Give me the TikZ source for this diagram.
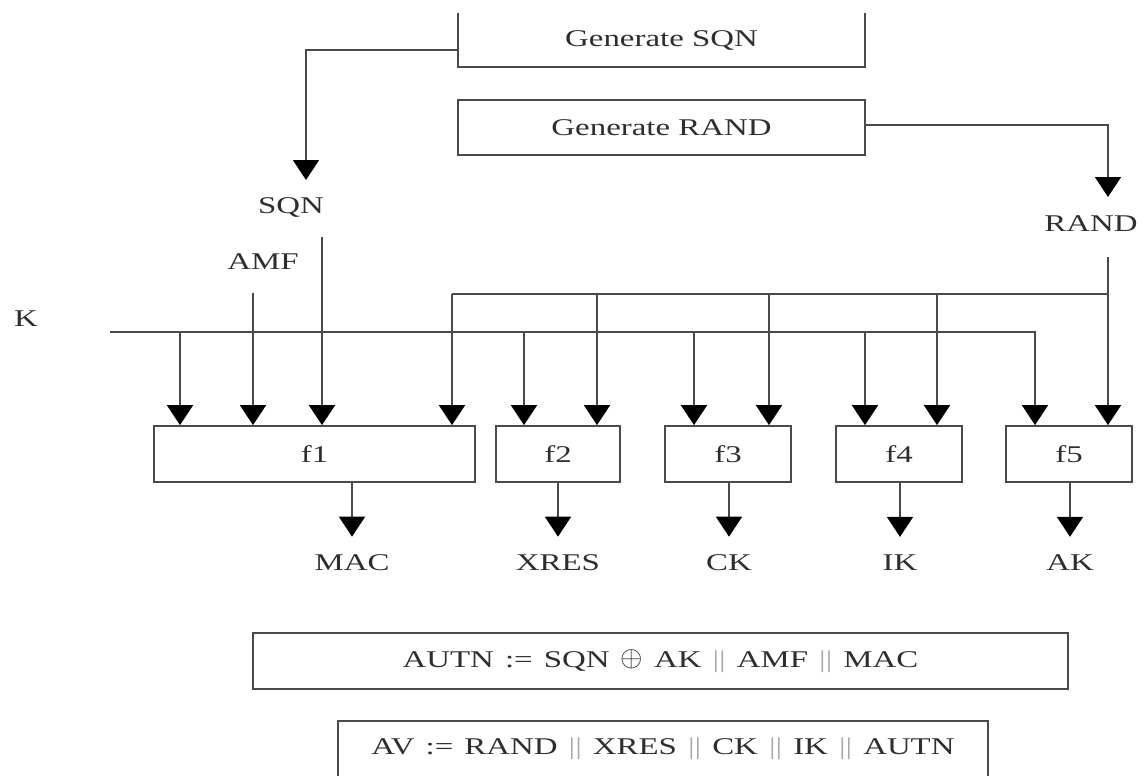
\documentclass[tikz,border=0pt]{standalone}
\usepackage{fontspec}
\setmainfont{Liberation Serif}[FakeStretch=1.37]
\usetikzlibrary{arrows.meta,calc}
\definecolor{ln}{HTML}{4A4A4A}
\definecolor{tx}{HTML}{2E2E2E}
\definecolor{bar}{HTML}{A8A8A8}
\def\pxu{0.75pt}
\newcommand{\dbar}{{\color{bar}||}}
\newcommand{\xorsym}{\raisebox{0.5pt}{\scalebox{1.25}{$\oplus$}}}
\newcommand{\widesp}{\spaceskip=8.3pt\relax}
\begin{document}
\begin{tikzpicture}[x=0.75pt,y=-0.75pt,
  every node/.style={font=\fontsize{18}{20}\selectfont, text=tx},
  wire/.style={draw=ln, line width=1.3pt},
  arr/.style={wire, -{Triangle[width=19.5pt,length=15pt,color=black]}},
  fbox/.style={draw=ln, line width=1.3pt, inner sep=0pt, minimum height=56*\pxu},
  openbox/.style={inner sep=0pt},
  lbl/.style={inner sep=0pt},
]
\useasboundingbox (0,0) rectangle (1146,776);

% top boxes
\node[openbox, minimum width=407*\pxu, minimum height=54*\pxu] (gsqn) at (661.5,40) {Generate SQN};
\draw[wire] (gsqn.north west) -- (gsqn.south west) -- (gsqn.south east) -- (gsqn.north east);
\node[fbox, minimum width=407*\pxu, minimum height=55*\pxu] (grand) at (661.5,127.5) {Generate RAND};

% labels
\node[lbl] (sqn) at (291,207) {SQN};
\node[lbl] (amf) at (263,262) {AMF};
\node[lbl] (k) at (26,319) {K};
\node[lbl] (rand) at (1091,224) {RAND};

% function boxes
\node[fbox, minimum width=321*\pxu] (f1) at (314.5,454) {f1};
\node[fbox, minimum width=124*\pxu] (f2) at (558,454) {f2};
\node[fbox, minimum width=126*\pxu] (f3) at (728,454) {f3};
\node[fbox, minimum width=126*\pxu] (f4) at (899,454) {f4};
\node[fbox, minimum width=126*\pxu] (f5) at (1069,454) {f5};

% outputs
\node[lbl] (mac) at (352,563) {MAC};
\node[lbl] (xres) at (558,563) {XRES};
\node[lbl] (ck) at (729,563) {CK};
\node[lbl] (ik) at (900,563) {IK};
\node[lbl] (ak) at (1070,563) {AK};

% formula boxes
\node[fbox, minimum width=815*\pxu] (autn) at (660.5,661) {\widesp AUTN := SQN \xorsym{} AK \dbar{} AMF \dbar{} MAC};
\node[openbox, minimum width=650*\pxu, minimum height=55*\pxu] (av) at (663,748.5) {\widesp AV := RAND \dbar{} XRES \dbar{} CK \dbar{} IK \dbar{} AUTN};
\draw[wire] (av.south west) -- (av.north west) -- (av.north east) -- (av.south east);

% coordinates
\coordinate (sqntip) at (306,180);
\coordinate (randtip) at (1108,197);
\coordinate (sqnout) at (322,237);
\coordinate (amfout) at (253,293);
\coordinate (randout) at (1108,257);
\coordinate (busL) at (452,294);
\coordinate (busR) at (1108,294);
\coordinate (kstart) at (110,332);
\coordinate (kend) at (1035,332);

% generators
\draw[arr] ($(gsqn.west)+(0,10)$) -| (sqntip);
\draw[arr] ($(grand.east)+(0,-2.5)$) -| (randtip);

% inputs
\draw[arr] (sqnout) -- (sqnout |- f1.north);
\draw[arr] (amfout) -- (amfout |- f1.north);
\draw[arr] (randout) -- (randout |- f5.north);
\draw[wire] (busL) -- (busR);
\foreach \x/\f in {452/f1,597/f2,769/f3,937/f4}
  \draw[arr] (\x,294) -- (\x,294 |- \f.north);
\draw[arr] (kstart) -- (kend) -- (kend |- f5.north);
\foreach \x/\f in {180/f1,524/f2,694/f3,865/f4}
  \draw[arr] (\x,332) -- (\x,332 |- \f.north);

% outputs
\foreach \f/\o in {f1/mac,f2/xres,f3/ck,f4/ik,f5/ak}
  \draw[arr] (\f.south -| \o.north) -- ([yshift=13.5pt]\o.north);
\end{tikzpicture}
\end{document}
